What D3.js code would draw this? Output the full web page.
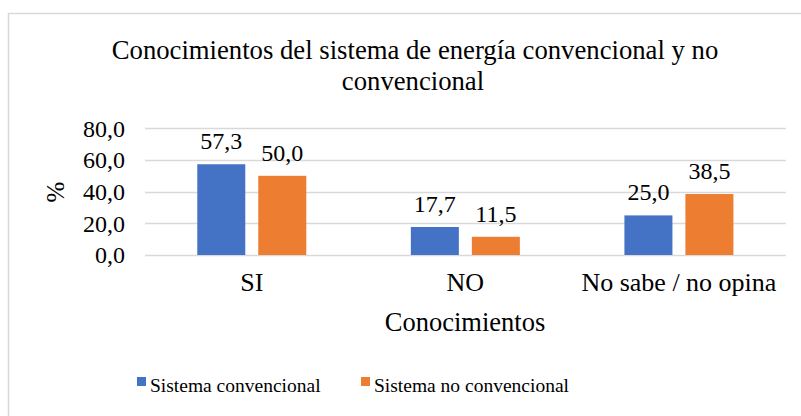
<!DOCTYPE html>
<html>
<head>
<meta charset="utf-8">
<script src="https://cdn.jsdelivr.net/npm/d3@7"></script>
<style>
  body { margin: 0; background: #fff; }
</style>
</head>
<body>
<svg id="chart" width="801" height="416"></svg>
<script>
// data
var categories = ["SI", "NO", "No sabe / no opina"];
var seriesNames = ["Sistema convencional", "Sistema no convencional"];
var convencional = [57.3, 17.7, 25.0];
var noConvencional = [50.0, 11.5, 38.5];
var yTicks = [0, 20, 40, 60, 80];
var colors = ["#4472c4", "#ed7d31"];

var FONT = "Liberation Serif";
var svg = d3.select("#chart");
var loc = d3.formatLocale({decimal: ",", thousands: ".", grouping: [3], currency: ["", ""]});
var fmt = loc.format(".1f");

// chart area border (cut off on right/bottom like the picture)
svg.append("rect")
    .attr("x", 8.5).attr("y", 13.5)
    .attr("width", 820).attr("height", 420)
    .attr("fill", "none")
    .attr("stroke", "#d9d9d9")
    .attr("stroke-width", 1.5);

var plotL = 145, plotR = 785.7, plotT = 128.3, plotB = 255;

var x0 = d3.scaleBand().domain(categories).range([plotL, plotR]);
var x1 = d3.scaleBand().domain(seriesNames).range([0, x0.bandwidth()])
    .paddingInner(0.213).paddingOuter(0.857);
var y = d3.scaleLinear().domain([0, 80]).range([plotB, plotT]);

// gridlines
svg.append("g").selectAll("line")
    .data(yTicks).enter().append("line")
    .attr("x1", plotL).attr("x2", plotR)
    .attr("y1", function(d){ return Math.round(y(d)) + 0.5; })
    .attr("y2", function(d){ return Math.round(y(d)) + 0.5; })
    .attr("stroke", "#d9d9d9")
    .attr("stroke-width", 1.5);

// y tick labels
svg.append("g").selectAll("text")
    .data(yTicks).enter().append("text")
    .attr("x", plotL - 20)
    .attr("y", function(d){ return y(d); })
    .attr("dy", "0.35em")
    .attr("text-anchor", "end")
    .attr("font-family", FONT)
    .attr("font-size", 24)
    .text(function(d){ return fmt(d); });

// bars
var rows = categories.map(function(c, i){
    return {cat: c, vals: [convencional[i], noConvencional[i]]};
});
var groups = svg.append("g").selectAll("g")
    .data(rows).enter().append("g")
    .attr("transform", function(d){ return "translate(" + x0(d.cat) + ",0)"; });

groups.selectAll("rect")
    .data(function(d){ return d.vals.map(function(v, j){ return {s: seriesNames[j], v: v, j: j}; }); })
    .enter().append("rect")
    .attr("x", function(d){ return x1(d.s); })
    .attr("y", function(d){ return y(d.v); })
    .attr("width", x1.bandwidth())
    .attr("height", function(d){ return y(0) - y(d.v); })
    .attr("fill", function(d){ return colors[d.j]; });

groups.selectAll("text")
    .data(function(d){ return d.vals.map(function(v, j){ return {s: seriesNames[j], v: v}; }); })
    .enter().append("text")
    .attr("x", function(d){ return x1(d.s) + x1.bandwidth() / 2; })
    .attr("y", function(d){ return y(d.v) - 15; })
    .attr("text-anchor", "middle")
    .attr("font-family", FONT)
    .attr("font-size", 24)
    .text(function(d){ return fmt(d.v); });

// category labels
svg.append("g").selectAll("text")
    .data(categories).enter().append("text")
    .attr("x", function(d){ return x0(d) + x0.bandwidth() / 2; })
    .attr("y", 291)
    .attr("text-anchor", "middle")
    .attr("font-family", FONT)
    .attr("font-size", 26)
    .text(function(d){ return d; });

// axis titles
svg.append("text")
    .attr("x", 465)
    .attr("y", 331)
    .attr("text-anchor", "middle")
    .attr("font-family", FONT)
    .attr("font-size", 26.5)
    .text("Conocimientos");

svg.append("text")
    .attr("transform", "translate(64,192) rotate(-90)")
    .attr("text-anchor", "middle")
    .attr("font-family", FONT)
    .attr("font-size", 25)
    .text("%");

// title
var title = svg.append("text")
    .attr("text-anchor", "middle")
    .attr("font-family", FONT)
    .attr("font-size", 26.7);
title.append("tspan").attr("x", 415).attr("y", 59)
    .text("Conocimientos del sistema de energía convencional y no");
title.append("tspan").attr("x", 413).attr("y", 90)
    .text("convencional");

// legend
var legend = svg.append("g").selectAll("g")
    .data(seriesNames).enter().append("g")
    .attr("transform", function(d, i){ return "translate(" + [137, 361][i] + ",0)"; });
legend.append("rect")
    .attr("x", 0).attr("y", 377)
    .attr("width", 9).attr("height", 9)
    .attr("fill", function(d, i){ return colors[i]; });
legend.append("text")
    .attr("x", 13).attr("y", 392)
    .attr("font-family", FONT)
    .attr("font-size", 19.5)
    .text(function(d){ return d; });
</script>
</body>
</html>
